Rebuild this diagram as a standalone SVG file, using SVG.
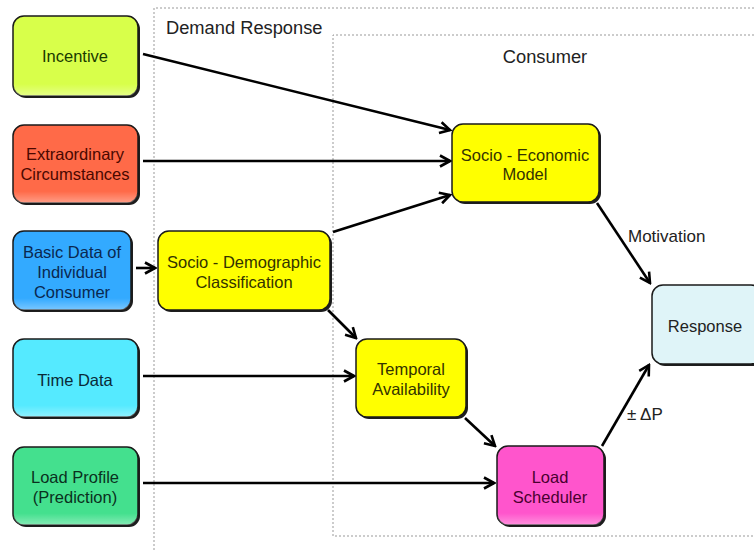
<svg xmlns="http://www.w3.org/2000/svg" width="754" height="552" viewBox="0 0 754 552">
<defs>
<style>
.box{stroke:#1a1a1a;stroke-width:1.5}
.sh{fill:#1e1e1e}
.lbl{font-family:"Liberation Sans",Arial,sans-serif;font-size:16.5px;text-anchor:middle}
.title{font-family:"Liberation Sans",Arial,sans-serif;font-size:18.3px;fill:#222}
.frame{fill:none;stroke:#999;stroke-width:1;stroke-dasharray:2,2}
.conn{stroke:#000;stroke-width:2.6;fill:none;marker-end:url(#ah)}
</style>
<marker id="ah" markerUnits="userSpaceOnUse" viewBox="0 0 14 14" refX="12" refY="7" markerWidth="14" markerHeight="14" orient="auto">
<path d="M2,1.5 L12,7 L2,12.5" fill="none" stroke="#000" stroke-width="2.6" stroke-linejoin="miter"/>
</marker>
<linearGradient id="g" x1="0" y1="0" x2="0" y2="1">
<stop offset="0" stop-color="#fff" stop-opacity="0"/>
<stop offset="0.85" stop-color="#fff" stop-opacity="0"/>
<stop offset="1" stop-color="#fff" stop-opacity="0.35"/>
</linearGradient>
</defs>
<rect width="754" height="552" fill="#fff"/>
<g id="frames">
<path class="frame" d="M154,550 L154,8 L754,8"/>
<path class="frame" d="M754,35 L333,35 L333,536 L754,536"/>
<text class="title" x="166" y="34">Demand Response</text>
<text class="title" x="545" y="63" text-anchor="middle">Consumer</text>
</g>
<g id="connectors">
<line class="conn" x1="143" y1="54" x2="450" y2="130"/>
<line class="conn" x1="143" y1="161" x2="450" y2="161"/>
<line class="conn" x1="333" y1="232" x2="450" y2="195"/>
<line class="conn" x1="136" y1="268" x2="155" y2="268"/>
<line class="conn" x1="328" y1="310" x2="356" y2="338"/>
<line class="conn" x1="143" y1="376" x2="354" y2="376"/>
<line class="conn" x1="465" y1="418" x2="495" y2="446"/>
<line class="conn" x1="143" y1="483" x2="494" y2="483"/>
<line class="conn" x1="602" y1="446" x2="649" y2="365"/>
<line class="conn" x1="597" y1="203" x2="650" y2="283"/>
<text class="title" x="628" y="242" style="font-size:17px">Motivation</text>
<text class="title" x="627" y="420" style="font-size:17px">± ΔP</text>
</g>
<g id="incentive">
<rect class="sh" x="15" y="18" width="125" height="80" rx="11"/>
<rect class="box" x="13" y="16" width="125" height="80" rx="11" fill="#d8ff4a"/>
<rect x="13" y="16" width="125" height="80" rx="11" fill="url(#g)"/>
<text class="lbl" x="75" y="62" fill="#1a3a00">Incentive</text>
</g>
<g id="extraordinary">
<rect class="sh" x="15" y="127" width="125" height="78" rx="11"/>
<rect class="box" x="13" y="125" width="125" height="78" rx="11" fill="#ff6a48"/>
<rect x="13" y="125" width="125" height="78" rx="11" fill="url(#g)"/>
<text class="lbl" x="75" y="160" fill="#4a0800">Extraordinary</text>
<text class="lbl" x="75" y="180" fill="#4a0800">Circumstances</text>
</g>
<g id="basic">
<rect class="sh" x="15" y="233" width="118" height="79" rx="11"/>
<rect class="box" x="13" y="231" width="118" height="79" rx="11" fill="#33aaff"/>
<rect x="13" y="231" width="118" height="79" rx="11" fill="url(#g)"/>
<text class="lbl" x="72" y="258" fill="#0a2850">Basic Data of</text>
<text class="lbl" x="72" y="278" fill="#0a2850">Individual</text>
<text class="lbl" x="72" y="298" fill="#0a2850">Consumer</text>
</g>
<g id="timedata">
<rect class="sh" x="15" y="341" width="125" height="78" rx="11"/>
<rect class="box" x="13" y="339" width="125" height="78" rx="11" fill="#55eaff"/>
<rect x="13" y="339" width="125" height="78" rx="11" fill="url(#g)"/>
<text class="lbl" x="75" y="386" fill="#0a2a38">Time Data</text>
</g>
<g id="loadprofile">
<rect class="sh" x="15" y="449" width="125" height="78" rx="11"/>
<rect class="box" x="13" y="447" width="125" height="78" rx="11" fill="#44e08e"/>
<rect x="13" y="447" width="125" height="78" rx="11" fill="url(#g)"/>
<text class="lbl" x="75" y="483" fill="#0a3020">Load Profile</text>
<text class="lbl" x="75" y="503" fill="#0a3020">(Prediction)</text>
</g>
<g id="sociodemographic">
<rect class="sh" x="160" y="233" width="172" height="79" rx="11"/>
<rect class="box" x="158" y="231" width="172" height="79" rx="11" fill="#ffff00"/>
<text class="lbl" x="244" y="268" fill="#333300">Socio - Demographic</text>
<text class="lbl" x="244" y="288" fill="#333300">Classification</text>
</g>
<g id="socioeconomic">
<rect class="sh" x="454" y="126" width="147" height="78" rx="11"/>
<rect class="box" x="452" y="124" width="147" height="78" rx="11" fill="#ffff00"/>
<text class="lbl" x="525" y="161" fill="#333300">Socio - Economic</text>
<text class="lbl" x="525" y="180" fill="#333300">Model</text>
</g>
<g id="temporal">
<rect class="sh" x="358" y="341" width="110" height="78" rx="11"/>
<rect class="box" x="356" y="339" width="110" height="78" rx="11" fill="#ffff00"/>
<text class="lbl" x="411" y="375" fill="#333300">Temporal</text>
<text class="lbl" x="411" y="395" fill="#333300">Availability</text>
</g>
<g id="loadscheduler">
<rect class="sh" x="499" y="448" width="107" height="79" rx="11"/>
<rect class="box" x="497" y="446" width="107" height="79" rx="11" fill="#ff55cc"/>
<rect x="497" y="446" width="107" height="79" rx="11" fill="url(#g)"/>
<text class="lbl" x="550" y="483" fill="#4a0030">Load</text>
<text class="lbl" x="550" y="503" fill="#4a0030">Scheduler</text>
</g>
<g id="response">
<rect class="sh" x="654" y="287" width="110" height="79" rx="11"/>
<rect class="box" x="652" y="285" width="110" height="79" rx="11" fill="#dff4f8"/>
<text class="lbl" x="705" y="332" fill="#222">Response</text>
</g>
</svg>
